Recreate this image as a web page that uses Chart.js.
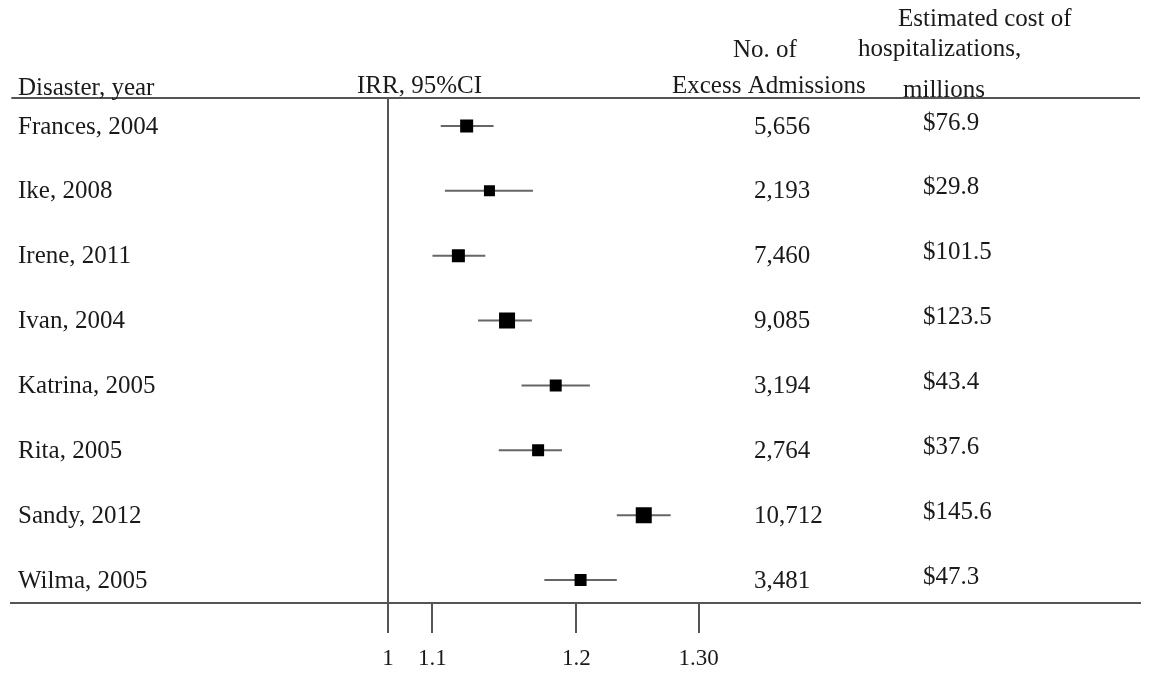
<!DOCTYPE html>
<html>
<head>
<meta charset="utf-8">
<script src="https://cdn.jsdelivr.net/npm/chart.js@4"></script>
<style>
html,body{margin:0;padding:0;background:#fff;}
canvas{display:block;}
</style>
</head>
<body>
<canvas id="c" width="1155" height="675"></canvas>
<script>
// ---- data ----
const disasters = ['Frances, 2004', 'Ike, 2008', 'Irene, 2011', 'Ivan, 2004', 'Katrina, 2005', 'Rita, 2005', 'Sandy, 2012', 'Wilma, 2005'];
const irr    = [1.076, 1.098, 1.068, 1.115, 1.162, 1.145, 1.247, 1.186];
const ciLow  = [1.051, 1.055, 1.043, 1.087, 1.129, 1.107, 1.221, 1.151];
const ciHigh = [1.102, 1.140, 1.094, 1.139, 1.195, 1.168, 1.273, 1.221];
const excessAdmissions = [5656, 2193, 7460, 9085, 3194, 2764, 10712, 3481];
const costMillions = [76.9, 29.8, 101.5, 123.5, 43.4, 37.6, 145.6, 47.3];
const tickValues = [1, 1.043, 1.182, 1.3];
const tickLabels = ['1', '1.1', '1.2', '1.30'];

// ---- styling ----
const boxSide = [13, 11, 13, 16, 12, 12, 16, 12];
const FONT = "'Liberation Serif', 'Times New Roman', serif";
const FS = 25;
const TXT = '#1a1a1a';
const LINE = '#555';

const forestPlugin = {
  id: 'forest',
  beforeDatasetsDraw(chart) {
    const {ctx, chartArea: a, scales: {x, y}} = chart;
    ctx.save();
    ctx.strokeStyle = LINE;
    ctx.lineWidth = 2;
    // top rule
    ctx.beginPath();
    ctx.moveTo(a.left, a.top); ctx.lineTo(a.right, a.top);
    ctx.stroke();
    // null line at 1
    const x1 = Math.round(x.getPixelForValue(1));
    ctx.beginPath();
    ctx.moveTo(x1, a.top); ctx.lineTo(x1, a.bottom);
    ctx.stroke();
    // CI whiskers
    ctx.strokeStyle = '#666';
    ctx.lineWidth = 2;
    for (let i = 0; i < irr.length; i++) {
      const py = y.getPixelForValue(i);
      ctx.beginPath();
      ctx.moveTo(x.getPixelForValue(ciLow[i]), py);
      ctx.lineTo(x.getPixelForValue(ciHigh[i]), py);
      ctx.stroke();
    }
    ctx.restore();
  },
  afterDraw(chart) {
    const {ctx, scales: {y}} = chart;
    ctx.save();
    ctx.fillStyle = TXT;
    ctx.font = FS + 'px ' + FONT;
    ctx.textBaseline = 'alphabetic';
    ctx.textAlign = 'left';
    // headers
    ctx.fillText('Disaster, year', 18, 95);
    ctx.fillText('IRR, 95%CI', 357, 93);
    ctx.fillText('No. of', 733, 57);
    ctx.fillText('Excess Admissions', 672, 93);
    ctx.fillText('Estimated cost of', 898, 26);
    ctx.fillText('hospitalizations,', 858, 56);
    ctx.fillText('millions', 903, 97);
    // rows
    ctx.textBaseline = 'middle';
    for (let i = 0; i < disasters.length; i++) {
      const py = y.getPixelForValue(i) + 1;
      ctx.fillText(disasters[i], 18, py);
      ctx.fillText(excessAdmissions[i].toLocaleString('en-US'), 754, py);
      ctx.fillText('$' + costMillions[i].toFixed(1), 923, py - 4);
    }
    ctx.restore();
  }
};

new Chart(document.getElementById('c'), {
  type: 'scatter',
  data: {
    datasets: [{
      data: irr.map((v, i) => ({x: v, y: i})),
      pointStyle: 'rect',
      pointRadius: boxSide.map(s => s / Math.SQRT2),
      pointHoverRadius: boxSide.map(s => s / Math.SQRT2),
      backgroundColor: '#000',
      borderWidth: 0
    }]
  },
  options: {
    responsive: false,
    animation: false,
    events: [],
    layout: {padding: {left: 8, right: 15, top: 98, bottom: 0}},
    plugins: {legend: {display: false}, tooltip: {enabled: false}},
    scales: {
      x: {
        type: 'linear',
        min: 0.6363,
        max: 1.7262,
        afterBuildTicks: s => { s.ticks = tickValues.map(v => ({value: v})); },
        afterFit: s => { s.height = 72; },
        ticks: {
          callback: (v, i) => tickLabels[i],
          font: {family: FONT, size: 23},
          color: TXT,
          padding: 12,
          autoSkip: false,
          maxRotation: 0
        },
        grid: {drawOnChartArea: false, drawTicks: true, tickLength: 30, color: LINE, lineWidth: 2},
        border: {display: true, color: LINE, width: 2}
      },
      y: {
        type: 'linear',
        reverse: true,
        min: -0.432,
        max: 7.355,
        display: false
      }
    }
  },
  plugins: [forestPlugin]
});
</script>
</body>
</html>
